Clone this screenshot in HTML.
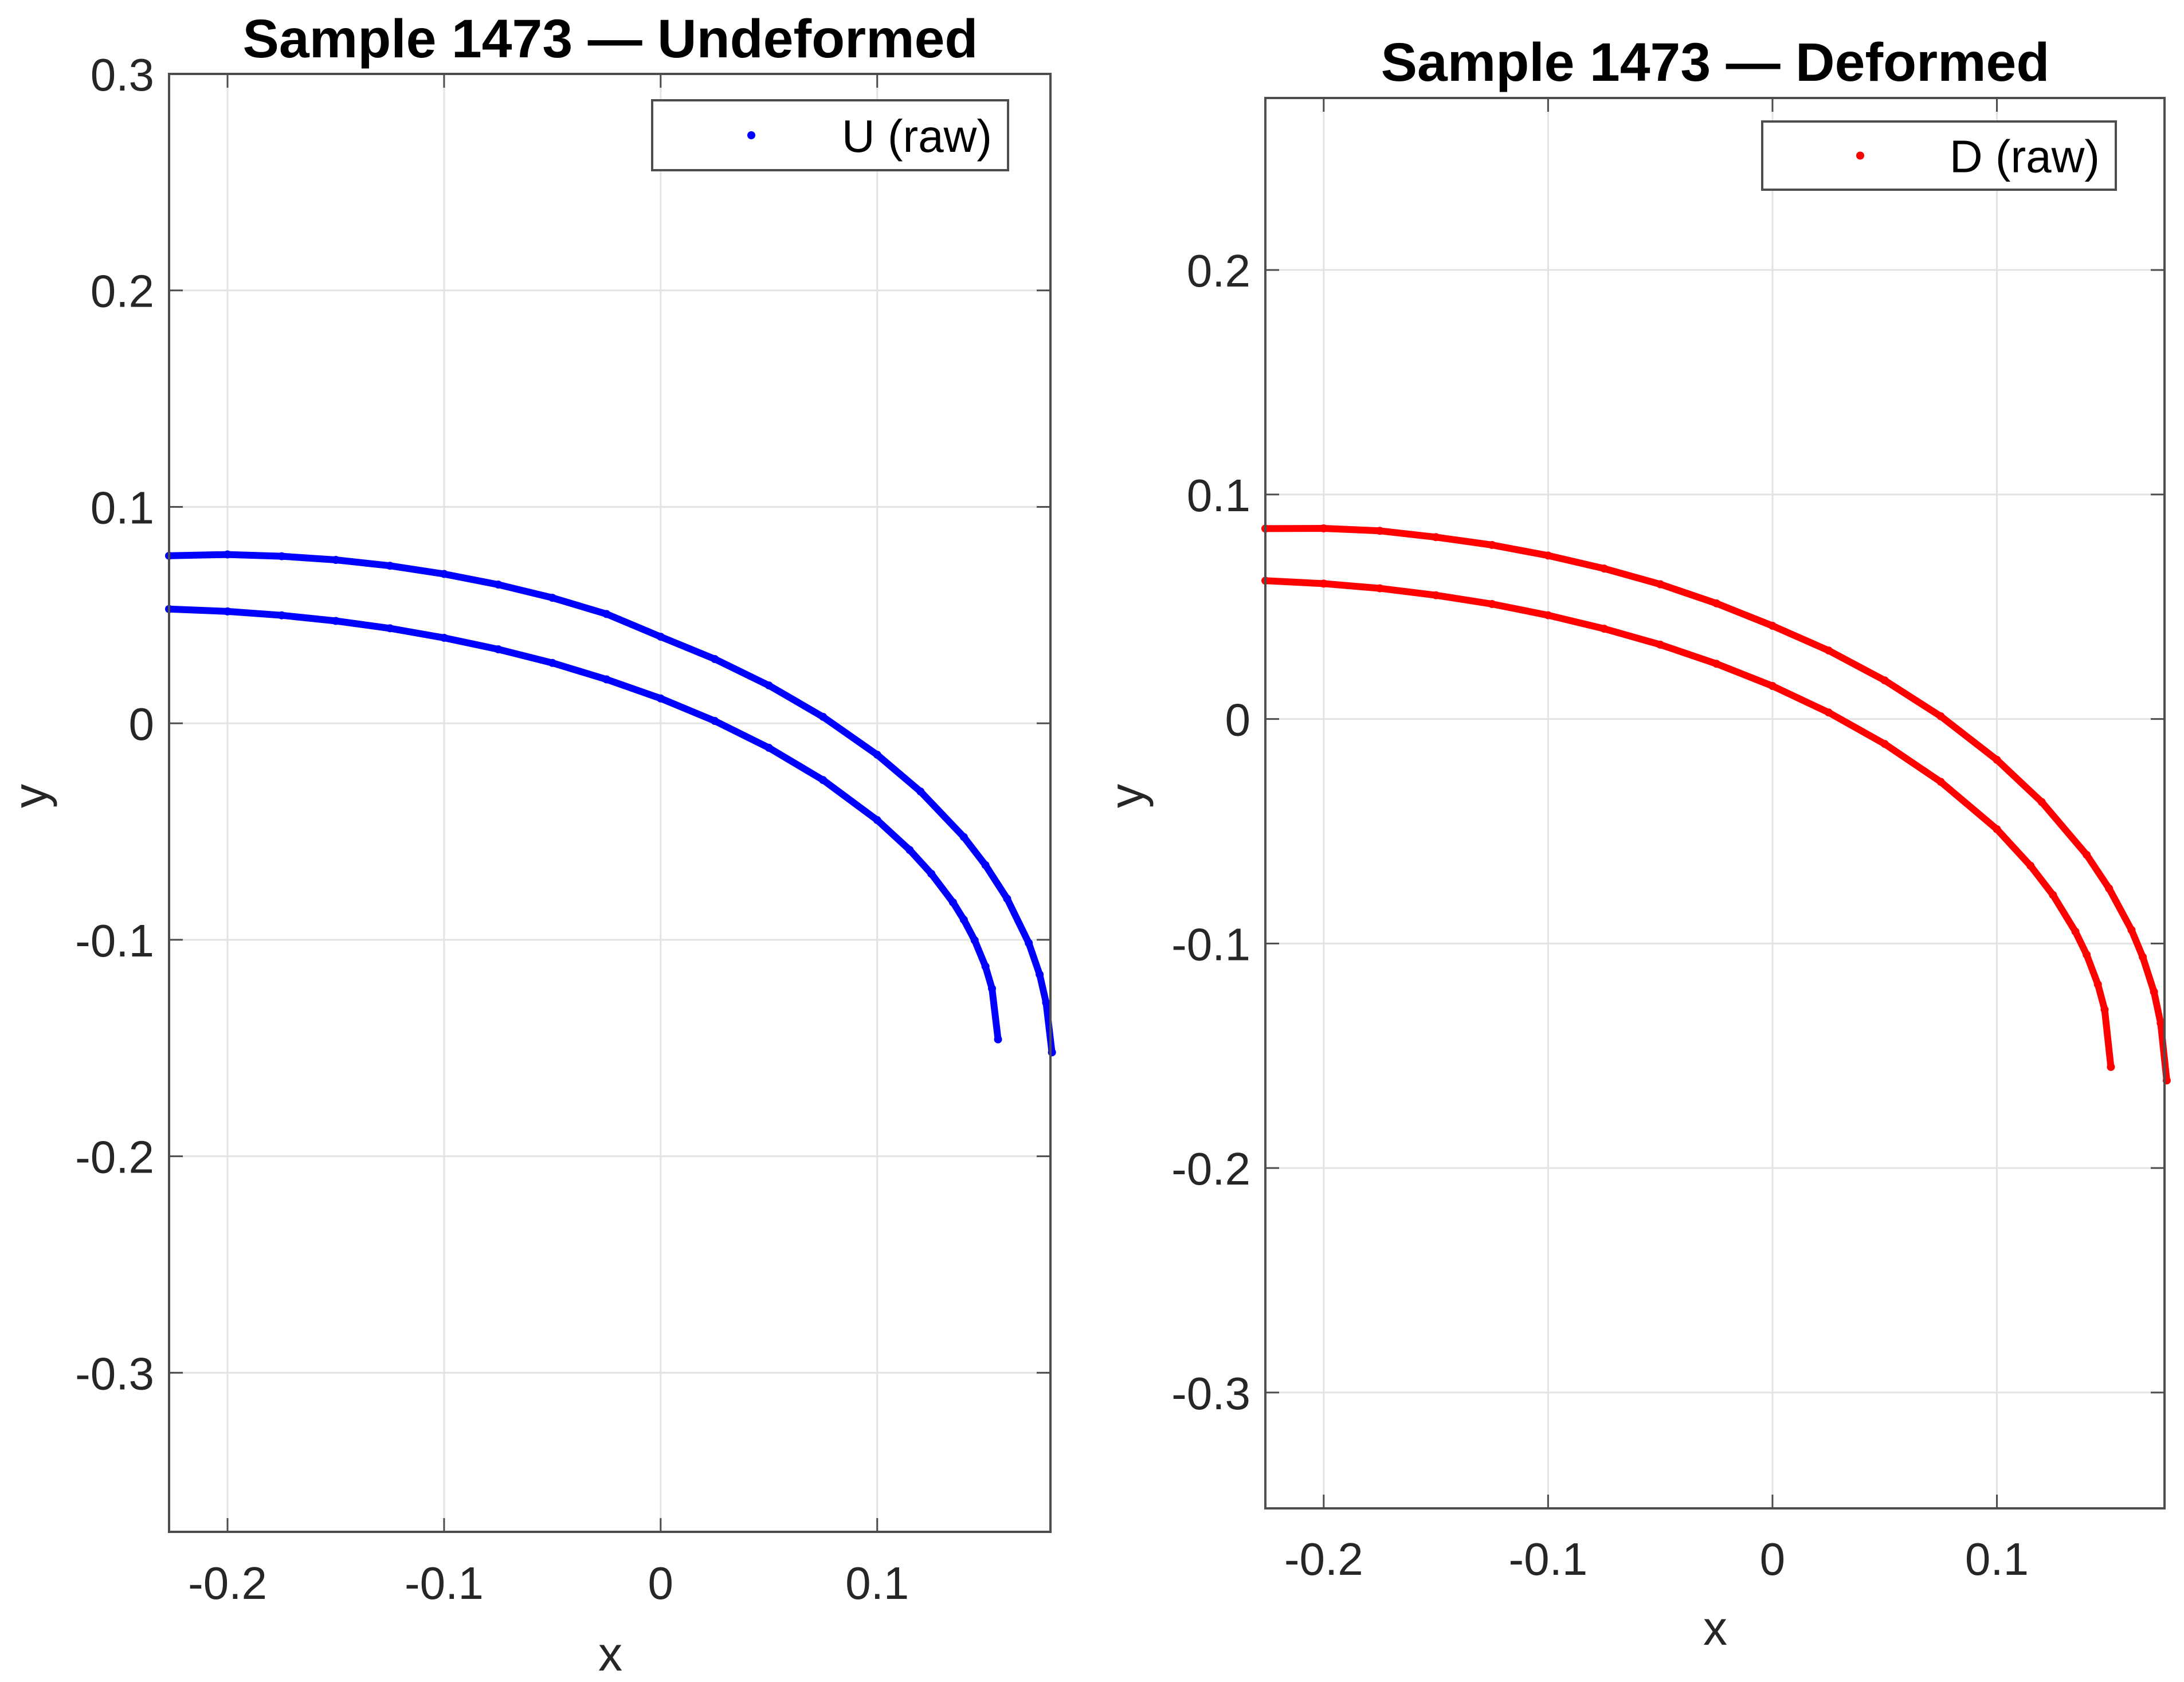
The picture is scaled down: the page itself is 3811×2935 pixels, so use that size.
<!DOCTYPE html>
<html><head><meta charset="utf-8"><style>
html,body{margin:0;padding:0;background:#fff;}
svg{display:block;font-family:"Liberation Sans",Arial,sans-serif;}
</style></head><body>
<svg id="fig" width="3811" height="2935" viewBox="0 0 3811 2935" xmlns="http://www.w3.org/2000/svg"></svg>
<script>
// ---- data ----
const uUpperX = [-0.227,-0.2,-0.175,-0.15,-0.125,-0.1,-0.075,-0.05,-0.025,0,0.025,0.05,0.075,0.1,0.12,0.14,0.15,0.16,0.17,0.175,0.178,0.1807];
const uUpperY = [0.0774,0.078,0.0772,0.0755,0.0728,0.0690,0.0641,0.0580,0.0505,0.0400,0.0297,0.0175,0.0030,-0.0145,-0.0315,-0.0525,-0.0655,-0.0810,-0.1015,-0.1160,-0.1290,-0.152];
const uLowerX = [-0.227,-0.2,-0.175,-0.15,-0.125,-0.1,-0.075,-0.05,-0.025,0,0.025,0.05,0.075,0.1,0.115,0.125,0.135,0.14,0.145,0.15,0.153,0.1558];
const uLowerY = [0.0528,0.0517,0.0499,0.0473,0.0439,0.0395,0.0342,0.0279,0.0203,0.0115,0.0011,-0.0113,-0.0262,-0.0447,-0.0585,-0.0695,-0.0827,-0.0907,-0.1002,-0.1123,-0.1225,-0.146];
const dUpperX = [-0.226,-0.2,-0.175,-0.15,-0.125,-0.1,-0.075,-0.05,-0.025,0,0.025,0.05,0.075,0.1,0.12,0.14,0.15,0.16,0.165,0.17,0.173,0.1757];
const dUpperY = [0.0848,0.0849,0.0838,0.0810,0.0775,0.0728,0.0670,0.0600,0.0515,0.0415,0.0305,0.0172,0.0012,-0.0182,-0.0370,-0.0605,-0.0755,-0.0940,-0.1060,-0.1215,-0.1355,-0.161];
const dLowerX = [-0.226,-0.2,-0.175,-0.15,-0.125,-0.1,-0.075,-0.05,-0.025,0,0.025,0.05,0.075,0.1,0.115,0.125,0.135,0.14,0.145,0.148,0.1508];
const dLowerY = [0.0616,0.0603,0.0582,0.0551,0.0512,0.0462,0.0402,0.0331,0.0246,0.0147,0.0029,-0.0111,-0.0280,-0.0491,-0.0654,-0.0784,-0.0947,-0.1050,-0.1182,-0.1294,-0.155];
const leftXTicks = [-0.2,-0.1,0,0.1];
const leftXTickLabels = ["-0.2","-0.1","0","0.1"];
const leftYTicks = [0.3,0.2,0.1,0,-0.1,-0.2,-0.3];
const leftYTickLabels = ["0.3","0.2","0.1","0","-0.1","-0.2","-0.3"];
const rightXTicks = [-0.2,-0.1,0,0.1];
const rightXTickLabels = ["-0.2","-0.1","0","0.1"];
const rightYTicks = [0.2,0.1,0,-0.1,-0.2,-0.3];
const rightYTickLabels = ["0.2","0.1","0","-0.1","-0.2","-0.3"];

const NS = "http://www.w3.org/2000/svg";
const svg = document.getElementById('fig');
function mk(tag, attrs, parent){
  const e = document.createElementNS(NS, tag);
  for (const k in attrs) e.setAttribute(k, attrs[k]);
  (parent||svg).appendChild(e);
  return e;
}

function panel(cfg){
  const g = mk('g', {});
  
  
  const sx = v => cfg.x0 + (v - cfg.xmin) / (cfg.xmax - cfg.xmin) * (cfg.x1 - cfg.x0);
  const sy = v => cfg.y1 - (v - cfg.ymin) / (cfg.ymax - cfg.ymin) * (cfg.y1 - cfg.y0);
  mk('rect', {x:cfg.x0, y:cfg.y0, width:cfg.x1-cfg.x0, height:cfg.y1-cfg.y0, fill:'#fff'}, g);
  cfg.xt.forEach(v => {
    const l = mk('line', {x1:sx(v), x2:sx(v), y1:cfg.y0, y2:cfg.y1, stroke:'#e3e3e3', 'stroke-width':3}, g);
    
    
  });
  cfg.yt.forEach(v => {
    const l = mk('line', {x1:cfg.x0, x2:cfg.x1, y1:sy(v), y2:sy(v), stroke:'#e3e3e3', 'stroke-width':3}, g);
    
    
  });
  cfg.series.forEach(s => {
    const sg = mk('g', {}, g);
    
    
    const pts = s.x.map((xv,i) => sx(xv).toFixed(1)+','+sy(s.y[i]).toFixed(1)).join(' ');
    mk('polyline', {points:pts, fill:'none', stroke:s.color, 'stroke-width':12, 'stroke-linejoin':'round', 'stroke-linecap':'round'}, sg);
    s.x.forEach((xv,i) => {
      const c = mk('circle', {cx:sx(xv), cy:sy(s.y[i]), r:7, fill:s.color}, sg);
      
      
    });
  });
  const box = mk('rect', {x:cfg.x0, y:cfg.y0, width:cfg.x1-cfg.x0, height:cfg.y1-cfg.y0, fill:'none', stroke:'#4d4d4d', 'stroke-width':4}, g);
  
  
  const tl = 24;
  cfg.xt.forEach((v,i) => {
    const x = sx(v);
    mk('line', {x1:x, x2:x, y1:cfg.y1, y2:cfg.y1-tl, stroke:'#4d4d4d', 'stroke-width':3}, g);
    mk('line', {x1:x, x2:x, y1:cfg.y0, y2:cfg.y0+tl, stroke:'#4d4d4d', 'stroke-width':3}, g);
    const t = mk('text', {x:x, y:cfg.xLabelY, 'font-size':80, fill:'#262626', 'text-anchor':'middle'}, g);
    t.textContent = cfg.xtl[i];
    
    
  });
  cfg.yt.forEach((v,i) => {
    const y = sy(v);
    mk('line', {x1:cfg.x0, x2:cfg.x0+tl, y1:y, y2:y, stroke:'#4d4d4d', 'stroke-width':3}, g);
    mk('line', {x1:cfg.x1, x2:cfg.x1-tl, y1:y, y2:y, stroke:'#4d4d4d', 'stroke-width':3}, g);
    const t = mk('text', {x:cfg.x0-26, y:y+29, 'font-size':80, fill:'#262626', 'text-anchor':'end'}, g);
    t.textContent = cfg.ytl[i];
    
    
  });
  const ti = mk('text', {x:cfg.titleX, y:cfg.titleY, 'font-size':95, 'font-weight':'bold', fill:'#000', 'text-anchor':'middle'}, g);
  ti.textContent = cfg.title;
  
  
  const xl = mk('text', {x:cfg.titleX, y:cfg.xTitleY, 'font-size':84, fill:'#262626', 'text-anchor':'middle'}, g);
  xl.textContent = 'x';
  
  
  const yl = mk('text', {x:0, y:0, 'font-size':84, fill:'#262626', 'text-anchor':'middle', transform:'translate('+cfg.yTitleX+','+cfg.yTitleY+') rotate(-90)'}, g);
  yl.textContent = 'y';
  
  
  const lg = mk('g', {}, g);
  
  
  const L = cfg.legend;
  mk('rect', {x:L.x, y:L.y, width:L.w, height:L.h, fill:'#fff', stroke:'#4d4d4d', 'stroke-width':4}, lg);
  const m = mk('circle', {cx:L.mx, cy:L.y+L.h/2, r:7, fill:cfg.series[0].color}, lg);
  
  
  const lt = mk('text', {x:L.x+L.w-28, y:L.y+L.h/2+29, 'font-size':80, fill:'#000', 'text-anchor':'end'}, lg);
  lt.textContent = L.text;
  
  
}

panel({name:'undeformed-panel', x0:295, x1:1833, y0:129, y1:2673,
  xmin:-0.227, xmax:0.18, ymin:-0.3735, ymax:0.3,
  xt:leftXTicks, xtl:leftXTickLabels, yt:leftYTicks, ytl:leftYTickLabels,
  xLabelY:2790, titleX:1065, titleY:100, xTitleY:2915, yTitleX:82, yTitleY:1389,
  title:'Sample 1473 \u2014 Undeformed',
  series:[{name:'u-upper-series', x:uUpperX, y:uUpperY, color:'#0000ff'},
          {name:'u-lower-series', x:uLowerX, y:uLowerY, color:'#0000ff'}],
  legend:{x:1138, y:175, w:621, h:122, mx:1311, text:'U (raw)'}
});
panel({name:'deformed-panel', x0:2208, x1:3777, y0:171, y1:2632,
  xmin:-0.226, xmax:0.1747, ymin:-0.3516, ymax:0.2766,
  xt:rightXTicks, xtl:rightXTickLabels, yt:rightYTicks, ytl:rightYTickLabels,
  xLabelY:2748, titleX:2993, titleY:141, xTitleY:2870, yTitleX:1995, yTitleY:1389,
  title:'Sample 1473 \u2014 Deformed',
  series:[{name:'d-upper-series', x:dUpperX, y:dUpperY, color:'#ff0000'},
          {name:'d-lower-series', x:dLowerX, y:dLowerY, color:'#ff0000'}],
  legend:{x:3075, y:212, w:617, h:119, mx:3246, text:'D (raw)'}
});
</script>
</body></html>
